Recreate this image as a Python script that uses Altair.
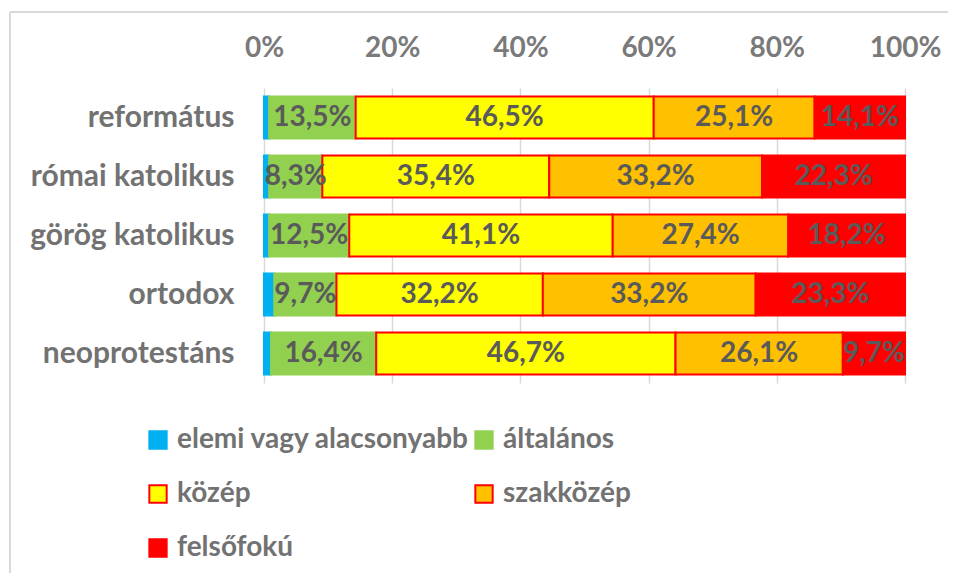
import altair as alt
import pandas as pd

religions = ["református", "római katolikus", "görög katolikus", "ortodox", "neoprotestáns"]
levels = ["elemi vagy alacsonyabb", "általános", "közép", "szakközép", "felsőfokú"]
elemi = [0.8, 0.8, 0.8, 1.6, 1.1]
altalanos = [13.5, 8.3, 12.5, 9.7, 16.4]
kozep = [46.5, 35.4, 41.1, 32.2, 46.7]
szakkozep = [25.1, 33.2, 27.4, 33.2, 26.1]
felsofoku = [14.1, 22.3, 18.2, 23.3, 9.7]

colors = ["#00B0F0", "#92D050", "#FFFF00", "#FFC000", "#FF0000"]
strokes = ["#00B0F0", "#92D050", "#FF0000", "#FF0000", "#FF0000"]

series = [elemi, altalanos, kozep, szakkozep, felsofoku]
rows = []
for li, (lvl, vals) in enumerate(zip(levels, series)):
    for r, v in zip(religions, vals):
        rows.append({"vallas": r, "szint": lvl, "ord": li, "v": v})
df = pd.DataFrame(rows)

FONT = "Lato"
TXT = "#5A5A5A"
AX = "#7A7A7A"

base = alt.Chart(df).transform_joinaggregate(
    total="sum(v)", groupby=["vallas"]
).transform_calculate(
    p="datum.v / datum.total",
    lab="replace(format(datum.v, '.1f'), '.', ',') + '%'"
).transform_stack(
    stack="p", groupby=["vallas"], as_=["x0", "x1"],
    sort=[alt.SortField("ord", order="ascending")]
).transform_calculate(xm="(datum.x0 + datum.x1) / 2")

yenc = alt.Y("vallas:N", sort=religions,
             scale=alt.Scale(paddingInner=0.29, paddingOuter=0.145),
             axis=alt.Axis(title=None, ticks=False, domain=False, labelFont=FONT,
                           labelFontSize=30, labelFontWeight="bold", labelColor="#727272",
                           labelPadding=30, labelLimit=300))

bars = base.mark_bar(strokeWidth=2).encode(
    x=alt.X("x0:Q", scale=alt.Scale(domain=[0, 1], nice=False),
            axis=alt.Axis(orient="top", format=".0%", values=[0, 0.2, 0.4, 0.6, 0.8, 1.0],
                          title=None, ticks=False, domain=False, grid=True,
                          gridColor="#D9D9D9", gridWidth=1.5, labelFont=FONT,
                          labelFontSize=28, labelFontWeight="bold", labelColor=AX,
                          labelPadding=26, labelFlush=False)),
    x2="x1:Q",
    y=yenc,
    color=alt.Color("szint:N", sort=levels,
                    scale=alt.Scale(domain=levels, range=colors),
                    legend=alt.Legend(title=None, orient="none", legendX=-120, legendY=338,
                                      direction="horizontal", columns=2, columnPadding=-4,
                                      rowPadding=26, symbolType="square", symbolSize=300,
                                      symbolStrokeWidth=2, labelFont=FONT, labelFontSize=28,
                                      labelFontWeight="bold", labelColor="#727272",
                                      labelOffset=5, labelLimit=400)),
    stroke=alt.Stroke("szint:N", sort=levels,
                      scale=alt.Scale(domain=levels, range=strokes), legend=None),
)

labels = base.transform_filter("datum.ord > 0").mark_text(
    font=FONT, fontSize=28, fontWeight="bold", color=TXT
).encode(
    x="xm:Q",
    y=alt.Y("vallas:N", sort=religions),
    text="lab:N",
)

one = pd.DataFrame({"a": [0]})
left_border = alt.Chart(one).mark_rule(color="#D9D9D9", strokeWidth=2).encode(
    x=alt.value(-254), y=alt.value(-76), y2=alt.value(600))
top_border = alt.Chart(one).mark_rule(color="#D9D9D9", strokeWidth=2).encode(
    x=alt.value(-254), x2=alt.value(800), y=alt.value(-76))

chart = alt.layer(bars, labels, left_border, top_border).properties(
    width=641, height=295,
    autosize=alt.AutoSizeParams(type="none"),
    padding={"left": 256, "top": 80, "right": 43, "bottom": 190},
).configure_view(stroke=None)

chart.save("out.html", embed_options={"renderer": "svg", "actions": False})
